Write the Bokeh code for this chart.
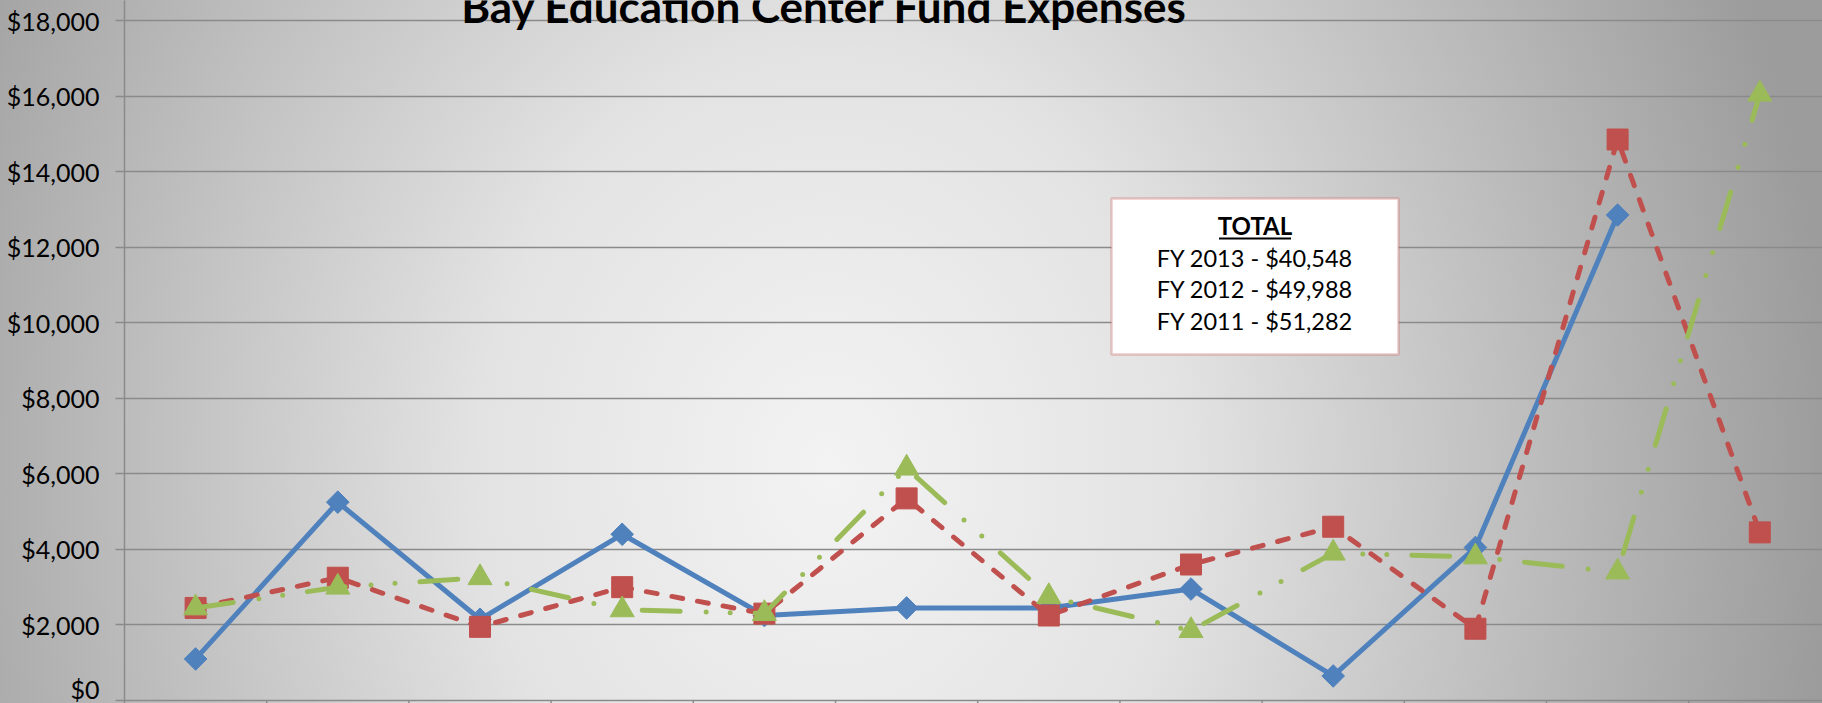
import numpy as np
from bokeh.plotting import figure
from bokeh.models import (Range1d, SingleIntervalTicker, NumeralTickFormatter,
                          BoxAnnotation, Label, ColumnDataSource)
from bokeh.embed import file_html
from bokeh.resources import INLINE

# ---------------- data ----------------
months = ["Jul", "Aug", "Sep", "Oct", "Nov", "Dec", "Jan", "Feb", "Mar", "Apr", "May", "Jun"]
fy2013 = [1100, 5250, 2150, 4400, 2250, 2450, 2450, 2950, 650, 4050, 12850, np.nan]
fy2012 = [2450, 3250, 1950, 3000, 2300, 5350, 2250, 3600, 4600, 1900, 14850, 4450]
fy2011 = [2450, 3000, 3250, 2400, 2300, 6150, 2750, 1850, 3900, 3800, 3400, 16050]
total_title = "TOTAL"
total_lines = ["FY 2013 - $40,548", "FY 2012 - $49,988", "FY 2011 - $51,282"]
chart_title = "Bay Education Center Fund Expenses"

BLUE, RED, GREEN = "#4F81BD", "#C0504D", "#9BBB59"
GRID = "#8A8A8A"

# ---------------- layout helpers (screen px of the 1822x703 window) ----------------
W, H = 1822, 703
LEFT = 124            # frame left (y axis line)
CAT_PX = 142.2        # px per category
Y0_SCREEN = 700       # screen y of $0
PX_PER_UNIT = 680 / 18000.0

def dx(sx):
    return (sx - LEFT) / CAT_PX - 0.5

def dy(sy):
    return (Y0_SCREEN - sy) / PX_PER_UNIT

x_end = -0.5 + (W - LEFT) / CAT_PX
y_lo = -(H - Y0_SCREEN) / PX_PER_UNIT
y_hi = Y0_SCREEN / PX_PER_UNIT

x = list(range(len(months)))
src = ColumnDataSource(dict(x=x, m=months, a=fy2013, b=fy2012, c=fy2011))

p = figure(width=W, height=H, output_backend="svg", toolbar_location=None,
           x_range=Range1d(-0.5, x_end), y_range=Range1d(y_lo, y_hi),
           x_axis_location=None,
           min_border_left=LEFT, min_border_right=0, min_border_top=0, min_border_bottom=0)
p.background_fill_alpha = 0
p.border_fill_alpha = 0
p.outline_line_color = None
p.styles = {"background": "radial-gradient(ellipse 1000px 1200px at 830px 470px, "
                          "#F3F3F3 0%, #E3E3E3 35%, #9C9C9C 100%)"}

# y axis
ticker = SingleIntervalTicker(interval=2000, num_minor_ticks=0)
p.yaxis.ticker = ticker
p.yaxis.formatter = NumeralTickFormatter(format="$0,0")
p.yaxis.axis_line_color = GRID
p.yaxis.axis_line_width = 1.5
p.yaxis.major_tick_line_color = GRID
p.yaxis.major_tick_line_width = 1.5
p.yaxis.major_tick_out = 9
p.yaxis.major_tick_in = 0
p.yaxis.minor_tick_line_color = None
p.yaxis.major_label_standoff = 16
p.yaxis.major_label_text_font = "Lato"
p.yaxis.major_label_text_font_size = "25px"
p.yaxis.major_label_text_color = "#000000"

p.ygrid.ticker = ticker
p.ygrid.grid_line_color = GRID
p.ygrid.grid_line_width = 1.5
p.xgrid.grid_line_color = None

# category boundary tick marks on the x axis (cut by the window edge)
bounds = [i + 0.5 for i in x[:-1]]
p.segment(x0=bounds, y0=[0] * len(bounds), x1=bounds, y1=[y_lo] * len(bounds),
          line_color=GRID, line_width=1.5)

# series
p.line("x", "a", source=src, line_color=BLUE, line_width=5, line_join="round")
p.scatter("x", "a", source=src, marker="square", angle=np.pi / 4, size=16,
          fill_color=BLUE, line_color=BLUE)

p.line("x", "b", source=src, line_color=RED, line_width=5, line_dash="11 15",
       line_cap="round", line_join="round")
p.scatter("x", "b", source=src, marker="square", size=21, fill_color=RED, line_color=RED)

p.line("x", "c", source=src, line_color=GREEN, line_width=5, line_dash="38 26 0 24 0 25",
       line_cap="round", line_join="round")
p.scatter("x", "c", source=src, marker="triangle", size=24, fill_color=GREEN, line_color=GREEN)

# title (cut at the top edge, as in the reference)
p.add_layout(Label(x=dx(824), y=dy(5), text=chart_title, text_align="center",
                   text_baseline="alphabetic", text_font="Lato", text_font_style="bold",
                   text_font_size="44px", text_color="#000000"))

# totals box
p.add_layout(BoxAnnotation(left=dx(1111), right=dx(1398), top=dy(198), bottom=dy(354),
                           fill_color="white", fill_alpha=1.0,
                           line_color=RED, line_width=2.5))
cx = dx(1254.5)
p.add_layout(Label(x=cx, y=dy(224.5), text=total_title, text_align="center",
                   text_baseline="middle", text_font="Lato", text_font_style="bold",
                   text_font_size="24px", text_color="#000000"))
p.add_layout(BoxAnnotation(left=dx(1254.5 - 36), right=dx(1254.5 + 36),
                           top=dy(237), bottom=dy(239),
                           fill_color="black", fill_alpha=1.0, line_color=None))
for i, t in enumerate(total_lines):
    p.add_layout(Label(x=cx, y=dy(257 + 31.5 * i), text=t, text_align="center",
                       text_baseline="middle", text_font="Lato",
                       text_font_size="23.5px", text_color="#000000"))

open("out.html", "w").write(file_html(p, INLINE))
